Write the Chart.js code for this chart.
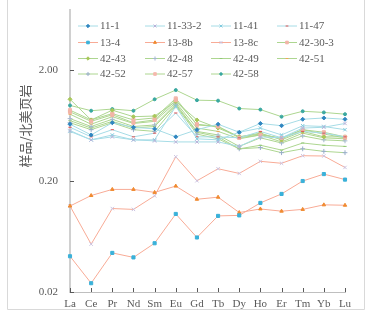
<!DOCTYPE html>
<html><head><meta charset="utf-8">
<script src="https://cdn.jsdelivr.net/npm/chart.js@4/dist/chart.umd.min.js"></script>
<style>html,body{margin:0;padding:0;background:#fff;}#wrap{width:367px;height:316px;position:relative;}</style>
</head><body><div id="wrap"><canvas id="c" width="367" height="316"></canvas></div>
<script>
const categories = ['La','Ce','Pr','Nd','Sm','Eu','Gd','Tb','Dy','Ho','Er','Tm','Yb','Lu'];
const yTicks = [0.02, 0.2, 2];
const yTitle = '样品/北美页岩';
const seriesNames = ['11-1','11-33-2','11-41','11-47','13-4','13-8b','13-8c','42-30-3','42-43','42-48','42-49','42-51','42-52','42-57','42-58'];
const s11_1   = [0.65,0.52,0.67,0.61,0.59,0.50,0.58,0.65,0.55,0.66,0.63,0.72,0.74,0.72];
const s11_33_2= [0.57,0.47,0.50,0.47,0.46,0.45,0.45,0.45,0.41,0.50,0.49,0.60,0.61,0.66];
const s11_41  = [0.56,0.47,0.52,0.47,0.47,0.94,0.48,0.47,0.55,0.60,0.52,0.63,0.62,0.58];
const s11_47  = [0.61,0.50,0.58,0.50,0.54,0.82,0.50,0.50,0.49,0.56,0.49,0.56,0.54,0.50];
const s13_4   = [0.042,0.024,0.045,0.041,0.055,0.101,0.062,0.097,0.098,0.127,0.153,0.200,0.231,0.206];
const s13_8b  = [0.119,0.148,0.168,0.168,0.158,0.180,0.137,0.143,0.104,0.112,0.107,0.111,0.122,0.121];
const s13_8c  = [0.119,0.054,0.113,0.111,0.147,0.331,0.201,0.258,0.234,0.301,0.289,0.338,0.336,0.265];
const s42_30_3= [0.84,0.69,0.79,0.67,0.71,1.07,0.65,0.62,0.49,0.52,0.49,0.58,0.55,0.50];
const s42_43  = [1.09,0.71,0.87,0.76,0.77,1.04,0.71,0.60,0.50,0.54,0.47,0.56,0.50,0.50];
const s42_48  = [0.73,0.62,0.72,0.62,0.64,0.99,0.56,0.52,0.41,0.49,0.44,0.51,0.47,0.46];
const s42_49  = [0.70,0.60,0.69,0.60,0.62,0.97,0.55,0.50,0.39,0.42,0.38,0.44,0.42,0.41];
const s42_51  = [0.80,0.65,0.76,0.66,0.69,1.02,0.60,0.56,0.48,0.52,0.45,0.54,0.49,0.48];
const s42_52  = [0.67,0.58,0.67,0.58,0.56,0.95,0.53,0.48,0.39,0.40,0.36,0.39,0.37,0.36];
const s42_57  = [0.87,0.71,0.81,0.71,0.74,1.11,0.64,0.62,0.50,0.53,0.48,0.58,0.53,0.49];
const s42_58  = [0.96,0.86,0.89,0.86,1.09,1.32,1.07,1.06,0.90,0.88,0.76,0.85,0.83,0.80];

const CY='#a6dce6', GR='#add690', SA='#f8ab96';
const styles = [
  [CY,'rectRot','#2f86c0',2],
  [CY,'crossRot','#b8b0d8',2.4],
  [CY,'crossRot','#80cade',2.4],
  [CY,'line','#e05050',1.6],
  [SA,'rect','#3ab1d9',2.2],
  [SA,'triangle','#f08a30',2],
  [SA,'crossRot','#cbc3e0',2.4],
  [GR,'rect','#f2b4a6',2.2],
  [GR,'rectRot','#a8c85a',2],
  [GR,'cross','#a4b8ce',2.4],
  [GR,'line','#90c874',1.6],
  [GR,'line','#f2a458',1.6],
  [GR,'cross','#98adca',2.4],
  [GR,'rect','#f4b8ac',2.2],
  [GR,'circle','#3aa8a0',1.5]
];
const seriesData=[s11_1,s11_33_2,s11_41,s11_47,s13_4,s13_8b,s13_8c,s42_30_3,s42_43,s42_48,s42_49,s42_51,s42_52,s42_57,s42_58];
const datasets = seriesNames.map((n,i)=>({
  label:n, data:seriesData[i], borderColor:styles[i][0], borderWidth:1,
  pointStyle:styles[i][1], pointBackgroundColor:styles[i][2], pointBorderColor:styles[i][2],
  pointRadius:styles[i][3], pointBorderWidth:1, pointHoverRadius:styles[i][3], fill:false, tension:0
}));
const TXT='#595959';
const extra = {
  id:'extra',
  afterDraw(chart){
    const ctx=chart.ctx, ca=chart.chartArea, x=chart.scales.x, y=chart.scales.y;
    ctx.save();
    ctx.strokeStyle='#d9d9d9'; ctx.lineWidth=1;
    ctx.beginPath(); ctx.moveTo(7.5,0); ctx.lineTo(7.5,309.5); ctx.lineTo(364.5,309.5); ctx.lineTo(364.5,0); ctx.stroke();
    ctx.strokeStyle=TXT; ctx.lineWidth=1;
    yTicks.forEach(v=>{const py=Math.round(y.getPixelForValue(v))+0.5; ctx.beginPath(); ctx.moveTo(ca.left,py); ctx.lineTo(ca.left+4,py); ctx.stroke();});
    categories.forEach((c,i)=>{const px=Math.round(x.getPixelForValue(i))+0.5; ctx.beginPath(); ctx.moveTo(px,ca.bottom); ctx.lineTo(px,ca.bottom-4); ctx.stroke();});
    ctx.fillStyle=TXT; ctx.font='13px "Noto Sans CJK SC"'; ctx.textAlign='center'; ctx.textBaseline='middle';
    ctx.translate(25,126); ctx.rotate(-Math.PI/2); ctx.fillText(yTitle,0,0);
    ctx.restore();
    ctx.save();
    const colX=[78,145,211,277], rowY=[26,42.5,58.5,74];
    chart.data.datasets.forEach((d,i)=>{
      const cx=colX[i%4], cy=rowY[Math.floor(i/4)];
      ctx.strokeStyle=d.borderColor; ctx.lineWidth=1;
      ctx.beginPath(); ctx.moveTo(cx,cy); ctx.lineTo(cx+20,cy); ctx.stroke();
      ctx.fillStyle=d.pointBackgroundColor; ctx.strokeStyle=d.pointBorderColor;
      Chart.helpers.drawPoint(ctx,{pointStyle:d.pointStyle,radius:d.pointRadius*0.85,rotation:0,borderWidth:1},cx+10,cy);
      ctx.fillStyle=TXT; ctx.font='11px "Liberation Serif"'; ctx.textAlign='left'; ctx.textBaseline='middle';
      ctx.fillText(d.label,cx+22,cy+0.5);
    });
    ctx.restore();
  }
};
new Chart(document.getElementById('c'),{
  type:'line',
  data:{labels:categories,datasets},
  plugins:[extra],
  options:{
    responsive:false, animation:false, devicePixelRatio:1,
    layout:{padding:{left:0,top:10,right:22,bottom:0}},
    plugins:{legend:{display:false},tooltip:{enabled:false}},
    scales:{
      x:{offset:false, grid:{display:false,drawTicks:false}, border:{display:true,color:'#bfbfbf',width:1},
         ticks:{color:TXT,font:{family:'Liberation Serif',size:11},padding:6,maxRotation:0,autoSkip:false},
         afterFit(s){s.height=24;s.paddingLeft=0;s.paddingRight=0;}},
      y:{type:'logarithmic', min:0.02, max:6.95,
         grid:{display:false,drawTicks:false}, border:{display:true,color:'#d0d0d0',width:2},
         afterBuildTicks(s){s.ticks=yTicks.map(v=>({value:v}));},
         ticks:{color:TXT,font:{family:'Liberation Serif',size:11},padding:12,callback:(v)=>Number(v).toFixed(2)},
         afterFit(s){s.width=70;s.paddingTop=0;s.paddingBottom=0;}}
    }
  }
});
</script></body></html>
